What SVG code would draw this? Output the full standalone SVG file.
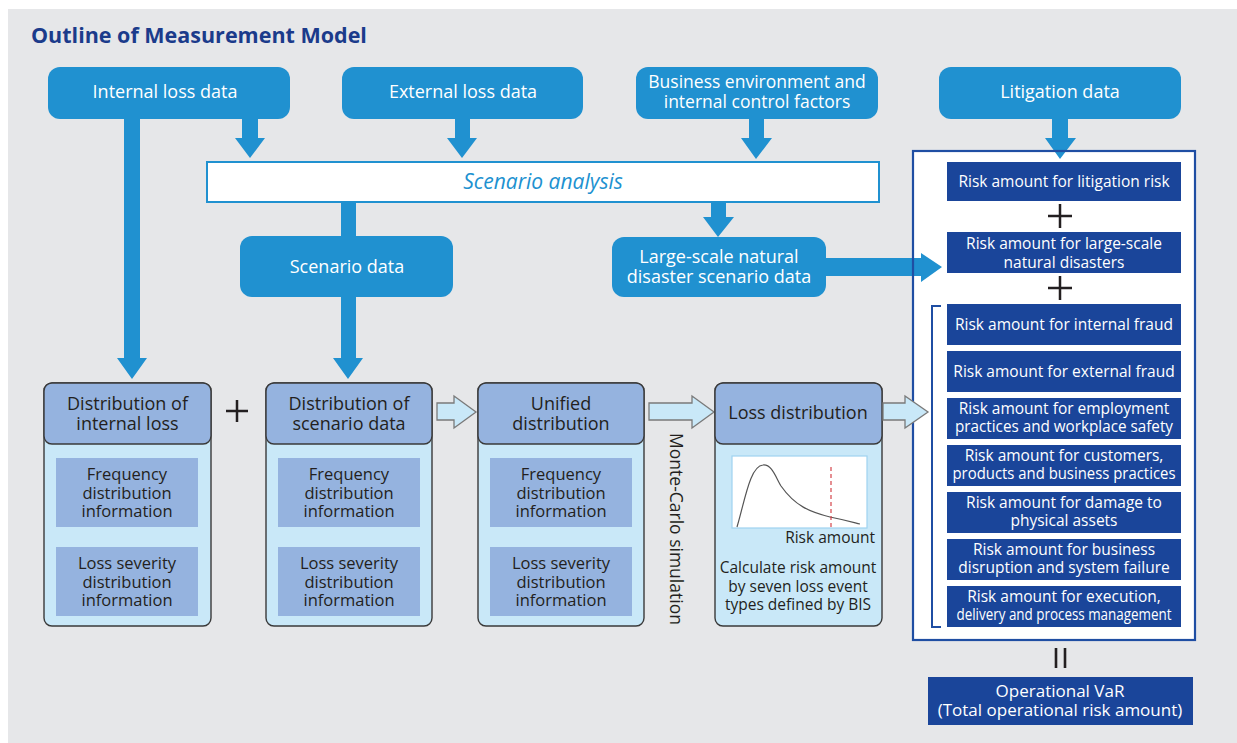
<svg xmlns="http://www.w3.org/2000/svg" width="1237" height="743" viewBox="0 0 1237 743">
<style>
text{font-family:"Open Sans","Noto Sans","Liberation Sans",sans-serif}
.top{fill:#2091d0}
.tw{fill:#fff;font-size:18px;text-anchor:middle}
.td{fill:#231f20;font-size:18px;text-anchor:middle}
.ti{fill:#231f20;font-size:16.5px;text-anchor:middle}
.tb{fill:#fff;font-size:15.5px;text-anchor:middle}
.dk{fill:#1a459a}
.body{fill:#c9e8f8;stroke:#3a3a3a;stroke-width:1.4}
.head{fill:#95b3df;stroke:#3a3a3a;stroke-width:1.4}
.inner{fill:#95b3df}
.blue{fill:#2091d0}
.hollow{fill:#c9e8f8;stroke:#7a7a7a;stroke-width:1.3}
.plus{stroke:#231f20;stroke-width:2.5;fill:none}
</style>
<rect x="8" y="9" width="1229" height="734" fill="#e6e7e9"/>
<text x="31" y="43" font-size="21.5" font-weight="bold" fill="#1b3b8b">Outline of Measurement Model</text>

<g id="internal-loss-data"><rect class="top" x="48" y="67" width="242" height="52" rx="12"/><text class="tw" x="165" y="98">Internal loss data</text></g>
<g id="external-loss-data"><rect class="top" x="342" y="67" width="241" height="52" rx="12"/><text class="tw" x="463" y="98">External loss data</text></g>
<g id="business-env"><rect class="top" x="636" y="67" width="242" height="52" rx="12"/><text class="tw" x="757" y="88" style="font-size:17.5px">Business environment and</text><text class="tw" x="757" y="108" style="font-size:17.5px">internal control factors</text></g>
<g id="litigation-data"><rect class="top" x="939" y="67" width="242" height="52" rx="12"/><text class="tw" x="1060" y="98">Litigation data</text></g>

<g id="scenario-analysis"><rect x="207" y="162" width="672" height="40" fill="#fff" stroke="#2091d0" stroke-width="2"/><text x="543" y="189" font-size="21" font-style="italic" fill="#2091d0" text-anchor="middle">Scenario analysis</text></g>

<g id="scenario-data"><rect class="top" x="240" y="236" width="213" height="61" rx="12"/><text class="tw" x="347" y="273">Scenario data</text></g>
<g id="large-scale"><rect class="top" x="612" y="237" width="214" height="60" rx="12"/><text class="tw" x="719" y="263">Large-scale natural</text><text class="tw" x="719" y="283">disaster scenario data</text></g>

<g id="right-box">
<rect x="913" y="151" width="282" height="489" fill="#fff"/>
</g>

<g id="connectors">
<polygon class="blue" points="124,119 140,119 140,358 147,358 132,379 117,358 124,358"/>
<polygon class="blue" points="242,119 258,119 258,138 265,138 250,158 235,138 242,138"/>
<polygon class="blue" points="455,119 470,119 470,138 477,138 462,158 447,138 455,138"/>
<polygon class="blue" points="749,119 764,119 764,138 772,138 756,159 741,138 749,138"/>
<polygon class="blue" points="1052,119 1068,119 1068,138 1076,138 1060,159 1045,138 1052,138"/>
<rect class="blue" x="341" y="202" width="15" height="36"/>
<polygon class="blue" points="341,296 356,296 356,358 363,358 348,379 333,358 341,358"/>
<polygon class="blue" points="711,202 726,202 726,217 734,217 718,237 703,217 711,217"/>
<polygon class="blue" points="825,258 921,258 921,253 942,267 921,282 921,276 825,276"/>
<polygon class="hollow" points="437,403 454,403 454,396 476,412 454,428 454,420 437,420"/>
<polygon class="hollow" points="649,403 692,403 692,396 714,412 692,428 692,420 649,420"/>
<path class="plus" d="M226,411 H248 M237,400 V422"/>
</g>

<rect x="913" y="151" width="282" height="489" fill="none" stroke="#1f4ea3" stroke-width="2.2"/>

<g id="box-internal">
<rect class="body" x="44" y="383" width="167" height="243" rx="8"/>
<rect class="head" x="44" y="383" width="167" height="61" rx="8"/>
<text class="td" x="127.5" y="410">Distribution of</text><text class="td" x="127.5" y="430">internal loss</text>
<rect class="inner" x="56" y="458" width="142" height="69"/>
<text class="ti" x="127" y="480">Frequency</text><text class="ti" x="127" y="498.5">distribution</text><text class="ti" x="127" y="517">information</text>
<rect class="inner" x="56" y="547" width="142" height="69"/>
<text class="ti" x="127" y="569">Loss severity</text><text class="ti" x="127" y="587.5">distribution</text><text class="ti" x="127" y="606">information</text>
</g>
<g id="box-scenario">
<rect class="body" x="266" y="383" width="166" height="243" rx="8"/>
<rect class="head" x="266" y="383" width="166" height="61" rx="8"/>
<text class="td" x="349" y="410">Distribution of</text><text class="td" x="349" y="430">scenario data</text>
<rect class="inner" x="278" y="458" width="142" height="69"/>
<text class="ti" x="349" y="480">Frequency</text><text class="ti" x="349" y="498.5">distribution</text><text class="ti" x="349" y="517">information</text>
<rect class="inner" x="278" y="547" width="142" height="69"/>
<text class="ti" x="349" y="569">Loss severity</text><text class="ti" x="349" y="587.5">distribution</text><text class="ti" x="349" y="606">information</text>
</g>
<g id="box-unified">
<rect class="body" x="478" y="383" width="166" height="243" rx="8"/>
<rect class="head" x="478" y="383" width="166" height="61" rx="8"/>
<text class="td" x="561" y="410">Unified</text><text class="td" x="561" y="430">distribution</text>
<rect class="inner" x="490" y="458" width="142" height="69"/>
<text class="ti" x="561" y="480">Frequency</text><text class="ti" x="561" y="498.5">distribution</text><text class="ti" x="561" y="517">information</text>
<rect class="inner" x="490" y="547" width="142" height="69"/>
<text class="ti" x="561" y="569">Loss severity</text><text class="ti" x="561" y="587.5">distribution</text><text class="ti" x="561" y="606">information</text>
</g>
<text x="0" y="0" transform="translate(670,529) rotate(90)" font-size="17.5" fill="#231f20" text-anchor="middle">Monte-Carlo simulation</text>
<g id="box-loss">
<rect class="body" x="715" y="383" width="167" height="243" rx="8"/>
<rect class="head" x="715" y="383" width="167" height="61" rx="8"/>
<text class="td" x="798" y="419">Loss distribution</text>
<rect x="732" y="456" width="135" height="72" fill="#fff" stroke="#9fd3f0" stroke-width="1.2"/>
<path d="M737,527 C745,500 750,466 763,465 C772,464 776,478 781,486 C795,506 810,512 830,517 C845,520 852,522 860,524" fill="none" stroke="#555" stroke-width="1.2"/>
<line x1="831" y1="467" x2="831" y2="528" stroke="#d0343a" stroke-width="1.1" stroke-dasharray="4,3"/>
<text x="875" y="543" font-size="15.5" fill="#231f20" text-anchor="end">Risk amount</text>
<text x="798" y="573" font-size="15.5" fill="#231f20" text-anchor="middle">Calculate risk amount</text>
<text x="798" y="592" font-size="15.5" fill="#231f20" text-anchor="middle">by seven loss event</text>
<text x="798" y="610" font-size="15.5" fill="#231f20" text-anchor="middle">types defined by BIS</text>
</g>
<polygon class="hollow" points="883,403 905,403 905,396 928,412 905,428 905,420 883,420"/>

<g id="risk-litigation"><rect class="dk" x="947" y="162" width="234" height="39"/><text class="tb" x="1064" y="187">Risk amount for litigation risk</text></g>
<path class="plus" d="M1048,216 H1072 M1060,204 V228"/>
<g id="risk-natural"><rect class="dk" x="947" y="232" width="234" height="41"/><text class="tb" x="1064" y="249">Risk amount for large-scale</text><text class="tb" x="1064" y="268">natural disasters</text></g>
<path class="plus" d="M1048,288 H1072 M1060,276 V300"/>
<path d="M941,306 H932 V627 H941" fill="none" stroke="#1f4ea3" stroke-width="2"/>
<g id="risk-internal-fraud"><rect class="dk" x="947" y="304" width="234" height="41"/><text class="tb" x="1064" y="330">Risk amount for internal fraud</text></g>
<g id="risk-external-fraud"><rect class="dk" x="947" y="351" width="234" height="41"/><text class="tb" x="1064" y="377">Risk amount for external fraud</text></g>
<g id="risk-employment"><rect class="dk" x="947" y="398" width="234" height="41"/><text class="tb" x="1064" y="414">Risk amount for employment</text><text class="tb" x="1064" y="432" textLength="218" lengthAdjust="spacingAndGlyphs">practices and workplace safety</text></g>
<g id="risk-customers"><rect class="dk" x="947" y="445" width="234" height="41"/><text class="tb" x="1064" y="461">Risk amount for customers,</text><text class="tb" x="1064" y="479" textLength="223" lengthAdjust="spacingAndGlyphs">products and business practices</text></g>
<g id="risk-damage"><rect class="dk" x="947" y="492" width="234" height="41"/><text class="tb" x="1064" y="508">Risk amount for damage to</text><text class="tb" x="1064" y="526">physical assets</text></g>
<g id="risk-disruption"><rect class="dk" x="947" y="539" width="234" height="41"/><text class="tb" x="1064" y="555">Risk amount for business</text><text class="tb" x="1064" y="573">disruption and system failure</text></g>
<g id="risk-execution"><rect class="dk" x="947" y="586" width="234" height="41"/><text class="tb" x="1064" y="602">Risk amount for execution,</text><text class="tb" x="1064" y="620" textLength="215" lengthAdjust="spacingAndGlyphs">delivery and process management</text></g>

<path d="M1056,648 V668 M1065,648 V668" stroke="#231f20" stroke-width="2.6"/>
<g id="operational-var"><rect class="dk" x="928" y="677" width="265" height="48"/><text class="tb" x="1060" y="697" style="font-size:17px">Operational VaR</text><text class="tb" x="1060" y="716" style="font-size:17px">(Total operational risk amount)</text></g>
</svg>
